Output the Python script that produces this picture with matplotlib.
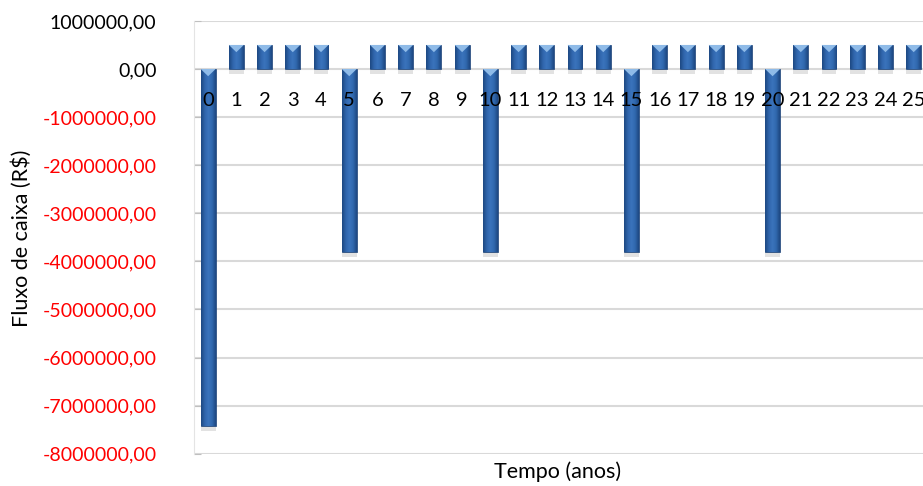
import numpy as np
import matplotlib.pyplot as plt
from matplotlib.colors import LinearSegmentedColormap
from matplotlib.patches import Polygon, Rectangle

# Fluxo de caixa anual do projeto (R$)
anos = list(range(26))
fluxo = [-7420000, 500000, 500000, 500000, 500000,
         -3800000, 500000, 500000, 500000, 500000,
         -3800000, 500000, 500000, 500000, 500000,
         -3800000, 500000, 500000, 500000, 500000,
         -3800000, 500000, 500000, 500000, 500000,
         500000]
y_ticks = list(range(-8000000, 1000001, 1000000))

plt.rcParams['font.family'] = ['Lato', 'DejaVu Sans']

fig = plt.figure(figsize=(9.23, 4.86), dpi=100)
ax = fig.add_axes([0.2102, 0.0663, 0.795, 0.8907])

largura = 0.53
bars = ax.bar(anos, fluxo, width=largura, color='#2c5f9f', edgecolor='#1a3f73',
              linewidth=0.5, zorder=3)

# gradiente horizontal para dar o efeito de bisel
cmap = LinearSegmentedColormap.from_list(
    'bisel', ['#1d4781', '#2f65ab', '#3b74bd', '#3068ae', '#1d4781'])
grad = np.linspace(0, 1, 64).reshape(1, -1)
for b in bars:
    x0, y0 = b.get_x(), b.get_y()
    w, h = b.get_width(), b.get_height()
    im = ax.imshow(grad, cmap=cmap, aspect='auto', zorder=3.5,
                   extent=(x0, x0 + w, y0, y0 + h), interpolation='bicubic')
    im.set_clip_path(b)

# chanfro claro no topo de cada barra e sombra abaixo
prof = 150000
sombra = 110000
for x, v in zip(anos, fluxo):
    topo = max(v, 0)
    base = min(v, 0)
    tri = Polygon([(x - largura / 2, topo), (x + largura / 2, topo), (x, topo - prof)],
                  closed=True, facecolor='#8fbbe8', edgecolor='none', zorder=4)
    ax.add_patch(tri)
    y_sombra = -sombra if v > 0 else base - sombra
    ax.add_patch(Rectangle((x - largura / 2, y_sombra), largura, sombra,
                           facecolor='#e2e2e2', edgecolor='none', zorder=2.5))

ax.set_xlim(-0.5, 25.5)
ax.set_ylim(-8000000, 1000000)

ax.set_yticks(y_ticks)
ax.set_yticklabels([f'{v:.2f}'.replace('.', ',') for v in y_ticks], fontsize=14)
for lab, v in zip(ax.get_yticklabels(), y_ticks):
    lab.set_color('#ff0000' if v < 0 else 'black')
ax.tick_params(axis='y', direction='in', length=5, color='#bfbfbf', pad=27)
ax.set_xticks([])

ax.grid(axis='y', color='#d9d9d9', linewidth=1.5, zorder=0)
ax.set_axisbelow(True)
for s in ['top', 'right', 'bottom']:
    ax.spines[s].set_visible(False)
ax.spines['left'].set_color('#e4e4e4')

# rótulos das categorias logo abaixo do eixo zero
for x in anos:
    ax.text(x, -665000, str(x), ha='center', va='center', fontsize=14.5,
            color='black', zorder=6)

fig.text(22 / 923, 1 - 238 / 486, 'Fluxo de caixa (R$)', rotation=90,
         ha='center', va='center', fontsize=15.5)
fig.text(558 / 923, 1 - 472 / 486, 'Tempo (anos)', ha='center', va='center',
         fontsize=15.5)

fig.savefig('out.png', dpi=100)
